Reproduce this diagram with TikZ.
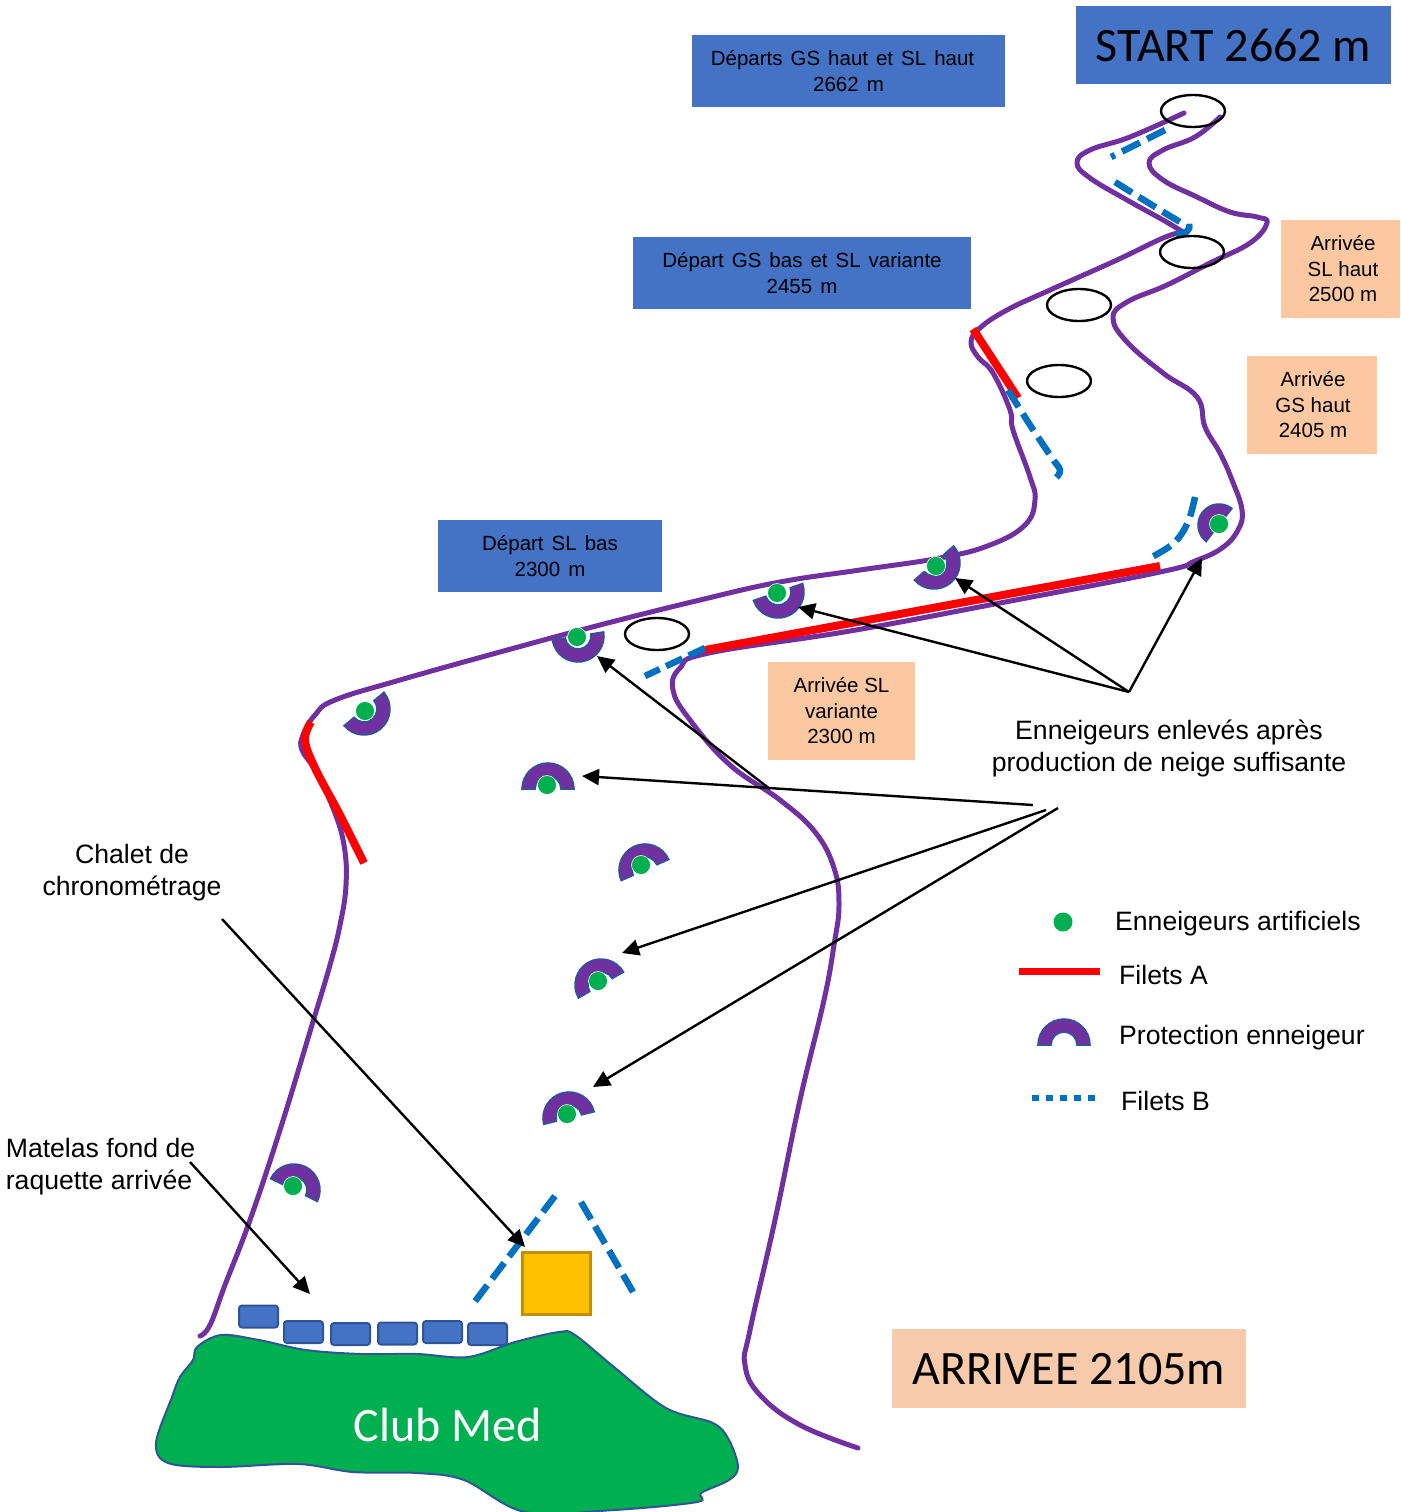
\documentclass[tikz,border=0pt]{standalone}
\usepackage{fontspec}
\setmainfont{Liberation Sans}
\newfontfamily\calib{Carlito}
\usetikzlibrary{arrows.meta,shapes.geometric}
\definecolor{piste}{HTML}{7030A0}
\definecolor{netblue}{HTML}{0070C0}
\definecolor{boxblue}{HTML}{4472C4}
\definecolor{edgeblue}{HTML}{2F5597}
\definecolor{boxorange}{HTML}{FCC8A2}
\definecolor{bigorange}{HTML}{F6CAAB}
\definecolor{snowgreen}{HTML}{00B050}
\definecolor{hutfill}{HTML}{FFC000}
\definecolor{hutedge}{HTML}{BF9000}
\newcommand\widerwords{\spaceskip=8pt\relax}
\tikzset{
  pisteline/.style={draw=piste,line width=5pt,line join=round,line cap=round},
  netA/.style={draw=red,line width=8pt},
  netB/.style={draw=netblue,line width=6.5pt,dash pattern=on 20pt off 8pt},
  gate/.style={draw=black,line width=2.4pt,ellipse,minimum width=64pt,minimum height=32pt,inner sep=0pt},
  bluebox/.style={fill=boxblue,inner sep=0pt,align=center,text=black,font=\fontsize{20.5}{25.5}\selectfont},
  orangebox/.style={fill=boxorange,inner sep=0pt,align=center,text=black,font=\fontsize{20.5}{25.5}\selectfont},
  bigtitle/.style={inner sep=0pt,align=center,text=black,font=\calib\fontsize{48}{54}\selectfont},
  label/.style={inner sep=0pt,align=center,text=black,font=\fontsize{26.6}{32}\selectfont},
  leglabel/.style={inner sep=0pt,anchor=west,text=black,font=\fontsize{26.6}{32}\selectfont},
  pointer/.style={draw=black,line width=2.4pt,-{Triangle[length=17pt,width=16pt]}},
  mat/.style={fill=boxblue,draw=edgeblue,line width=2pt,rounded corners=3pt,minimum width=39pt,minimum height=22pt,inner sep=0pt},
  snow/.style={circle,fill=snowgreen,draw=white,line width=.6pt,minimum size=19pt,inner sep=0pt},
}
\newcommand\shield[5]{%
  \begin{scope}[shift={(#1,#2)},rotate=#3]
    \fill[piste,draw=edgeblue,line width=1.6pt] (-90:#4pt) arc[start angle=-90,end angle=90,radius=#4pt]
      -- (90:#5pt) arc[start angle=90,end angle=-90,radius=#5pt] -- cycle;
  \end{scope}}
\begin{document}
\begin{tikzpicture}[x=1pt,y=-1pt]
\useasboundingbox (0,0) rectangle (1400,1512);

% Club Med ground
\path[fill=snowgreen,draw=edgeblue,line width=2pt] plot[smooth cycle,tension=0.55] coordinates {
 (197,1347) (221,1335) (259,1340) (306,1350) (361,1354) (417,1354) (468,1357) (515,1342)
 (559,1332) (575,1335) (614,1367) (666,1408) (713,1423) (729,1440) (738,1467) (729,1480)
 (701,1493) (697,1502) (614,1510) (525,1512) (464,1480) (417,1473) (353,1472) (298,1464)
 (219,1467) (168,1463) (156,1443) (172,1397) (180,1377) (193,1360)};
\node[inner sep=0pt,text=white,font=\calib\fontsize{48}{54}\selectfont] (club) at (448,1425) {Club Med};

% piste edges
\path[pisteline] plot[smooth,tension=0.7] coordinates {
 (1184,113) (1130,137) (1090,150) (1077,163) (1090,178) (1127,200) (1163,220) (1183,232)};
\path[pisteline] plot[smooth,tension=0.7] coordinates {
 (1183,232) (1163,238) (1117,260) (1050,290) (1007,310) (980,328) (971,342) (978,357) (993,373)
 (1010,410) (1013,430) (1030,477) (1035,500) (1025,525) (990,545) (940,558) (860,570) (780,582)
 (700,600) (600,625) (500,652) (400,680) (335,700) (315,715) (303,735) (302,750) (315,770) (333,808)
 (344,845) (346,885) (340,925) (330,965) (312,1025) (280,1130) (250,1220) (225,1285) (210,1325) (200,1336)};
\path[pisteline] plot[smooth,tension=0.7] coordinates {
 (1220,117) (1195,137) (1163,150) (1149,163) (1163,180) (1197,197) (1230,212) (1257,217) (1267,223)
 (1250,243) (1210,263) (1167,285) (1127,302) (1113,318) (1127,342) (1163,373) (1197,397) (1205,427)
 (1220,453) (1232,480) (1242,510) (1238,530) (1222,548) (1195,561) (1160,572) (1000,603) (850,631) (709,653)
 (680,668) (673,690) (690,720) (730,765) (780,800) (815,832) (834,868) (839,905) (834,945) (824,1000) (800,1100)
 (775,1220) (750,1330) (745,1365) (760,1395) (800,1425) (858,1448)};

% Filets A
\draw[netA] (973,329) -- (1018,398);
\draw[netA] (705,650) -- (1160,566);
\draw[netA] plot[smooth,tension=0.6] coordinates {(311,722) (305,740) (315,768) (340,815) (364,863)};
\draw[netA,line width=7pt] (1019,971) -- (1100,971);

% Filets B
\draw[netB,dash pattern=on 20pt off 8pt on 20pt off 8pt on 6pt off 100pt] (1165,130) -- (1111,157);
\draw[netB] plot[smooth,tension=0.6] coordinates {(1115,182) (1160,210) (1187,226)};
\draw[netB,solid] (1176,234) .. controls (1185,234) and (1191,231) .. (1189,224);
\draw[netB] plot[smooth,tension=0.6] coordinates {(1008,390) (1030,425) (1052,458) (1060,470) (1056,478)};
\draw[netB] plot[smooth,tension=0.6] coordinates {(1195,497) (1188,522) (1174,543) (1150,558)};
\draw[netB,dash pattern=on 18pt off 7pt] (705,648) -- (645,676);
\draw[netB] (555,1196) -- (473,1304);
\draw[netB] (581,1202) -- (633,1292);
\draw[netB,dash pattern=on 7pt off 7pt] (1032,1098) -- (1100,1098);

% gates
\node[gate] (g1) at (1193,111) {};
\node[gate] (g2) at (1192,252) {};
\node[gate] (g3) at (1079,305) {};
\node[gate] (g4) at (1059,381) {};
\node[gate] (g5) at (657,634) {};

% protections and snow guns
\shield{364}{709}{-50}{26}{13}   \node[snow] (s1) at (365,711) {};
\shield{578}{636}{-81}{26}{13}   \node[snow] (s2) at (577,637) {};
\shield{778}{592}{-71}{26}{13}   \node[snow] (s3) at (777,593) {};
\shield{934}{563}{-49}{26}{13}   \node[snow] (s4) at (936,566) {};
\shield{1219}{525}{142}{21}{10}  \node[snow] (s5) at (1219,524) {};
\shield{548}{789}{90}{26}{13}    \node[snow] (s6) at (547,785) {};
\shield{645}{870}{114}{26}{13}   \node[snow] (s7) at (641,865) {};
\shield{601}{985}{120}{26}{13}   \node[snow] (s8) at (598,981) {};
\shield{569}{1118}{104}{26}{13}  \node[snow] (s9) at (567,1114) {};
\shield{294}{1190}{64}{26}{13}   \node[snow] (s10) at (293,1186) {};

% mats
\node[mat] (m1) at (258.5,1316.5) {};
\node[mat] (m2) at (303.5,1332) {};
\node[mat] (m3) at (350.5,1334) {};
\node[mat] (m4) at (397.5,1333.5) {};
\node[mat] (m5) at (442.5,1332) {};
\node[mat] (m6) at (487.5,1334) {};

% chalet
\node[fill=hutfill,draw=hutedge,line width=2.4pt,minimum width=68pt,minimum height=62pt,inner sep=0pt] (hut) at (556.5,1283.5) {};

% boxes
\node[bluebox,minimum width=315pt,minimum height=78pt,font=\calib\fontsize{48}{54}\selectfont] (start) at (1233.5,45) {START 2662 m};
\node[bluebox,minimum width=313pt,minimum height=72pt] (b1) at (848.5,71) {\widerwords\hspace*{-12pt}Départs GS haut et SL haut\\\widerwords 2662 m};
\node[bluebox,minimum width=338pt,minimum height=72pt] (b2) at (802,273) {\widerwords Départ GS bas et SL variante\\\widerwords 2455 m};
\node[bluebox,minimum width=224pt,minimum height=72pt] (b3) at (550,556) {\widerwords Départ SL bas\\\widerwords 2300 m};
\node[orangebox,minimum width=119pt,minimum height=98pt] (o1) at (1340.5,269) {\hspace*{5pt}Arrivée\\\hspace*{5pt}SL haut\\\hspace*{5pt}2500 m};
\node[orangebox,minimum width=130pt,minimum height=98pt] (o2) at (1312,405) {\hspace*{2pt}Arrivée\\\hspace*{2pt}GS haut\\\hspace*{2pt}2405 m};
\node[orangebox,minimum width=147pt,minimum height=98pt] (o3) at (841.5,711) {Arrivée SL\\variante\\2300 m};
\node[bigtitle,fill=bigorange,minimum width=354pt,minimum height=79pt,text height=33pt,text depth=1pt] (arr) at (1069,1368.5) {ARRIVEE 2105m};

% labels
\node[label] (lab1) at (1169,748) {Enneigeurs enlevés après\\production de neige suffisante};
\node[label] (lab2) at (132,873) {Chalet de\\chronométrage};
\node[label,align=left] (lab3) at (100.5,1167) {Matelas fond de\\raquette arrivée};
\node[snow,draw=none] (leg1) at (1063,922) {};
\shield{1064}{1045}{90}{26}{13}
\node[leglabel] (l1) at (1115,924) {Enneigeurs artificiels};
\node[leglabel] (l2) at (1119,975) {Filets A};
\node[leglabel] (l3) at (1119,1038) {Protection enneigeur};
\node[leglabel] (l4) at (1121,1101) {Filets B};

% connectors
\coordinate (hub1) at (1129,692);
\coordinate (hub2a) at (1033,805);
\coordinate (hub2b) at (1046,810);
\coordinate (hub2c) at (1058,808);
\coordinate (mid) at (770,789);
\coordinate (chaletfrom) at (222,919);
\coordinate (matfrom) at (190,1162);
\coordinate (t1) at (955,578);
\coordinate (t2) at (798,607);
\coordinate (t3) at (1202,558);
\coordinate (t4) at (597,656);
\coordinate (t5) at (582,776);
\coordinate (t6) at (622,953);
\coordinate (t7) at (593,1087);
\coordinate (t8) at (525,1247);
\coordinate (t9) at (310,1294);
\draw[pointer] (hub1) -- (t1);
\draw[pointer] (hub1) -- (t2);
\draw[pointer] (hub1) -- (t3);
\draw[pointer] (mid) -- (t4);
\draw[pointer] (hub2a) -- (t5);
\draw[pointer] (hub2b) -- (t6);
\draw[pointer] (hub2c) -- (t7);
\draw[pointer] (chaletfrom) -- (t8);
\draw[pointer] (matfrom) -- (t9);
\end{tikzpicture}
\end{document}
